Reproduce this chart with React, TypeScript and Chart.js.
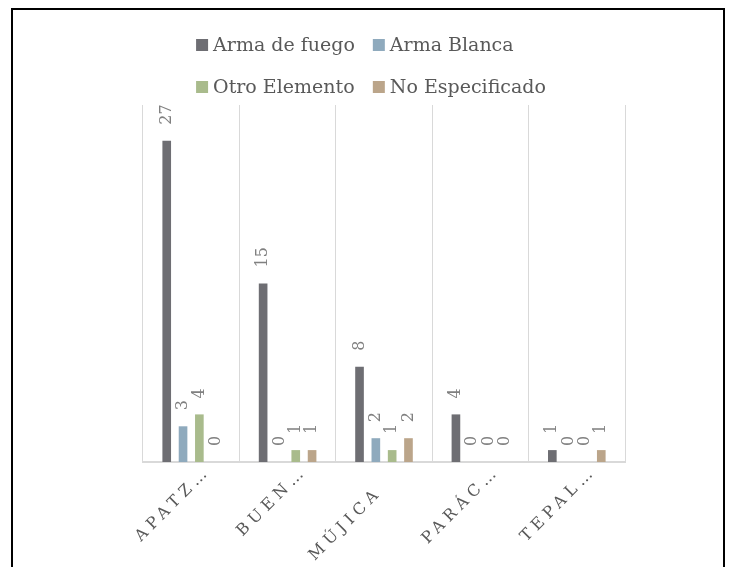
import React, { useEffect, useRef } from "react";
import { Chart, registerables } from "chart.js";

Chart.register(...registerables);

const categories = ["APATZ…", "BUEN…", "MÚJICA   ", "PARÁC…", "TEPAL…"];
const armaFuego = [27, 15, 8, 4, 1];
const armaBlanca = [3, 0, 2, 0, 0];
const otroElemento = [4, 1, 1, 0, 0];
const noEspecificado = [0, 1, 2, 0, 1];
const seriesNames = ["Arma de fuego", "Arma Blanca", "Otro Elemento", "No Especificado"];
const seriesColors = ["#6e6e73", "#8faabd", "#a9bb8c", "#bba58a"];
const yMin = 0;
const yMax = 30;

const FONT = "'DejaVu Serif', serif";

const gridLegend = {
  id: "gridLegend",
  afterDraw(chart: any) {
    const ctx = chart.ctx as CanvasRenderingContext2D;
    ctx.save();
    (ctx as any).letterSpacing = "0px";
    ctx.font = `19px ${FONT}`;
    ctx.textBaseline = "middle";
    ctx.textAlign = "left";
    const box = 12;
    const gap = 5;
    const colGap = 18;
    const w = seriesNames.map((n) => ctx.measureText(n).width);
    const col1 = box + gap + Math.max(w[0], w[2]);
    const col2 = box + gap + Math.max(w[1], w[3]);
    const total = col1 + colGap + col2;
    const left = (chart.width - total) / 2 + 3;
    const rowY = [35, 77];
    seriesNames.forEach((name, i) => {
      const row = Math.floor(i / 2);
      const col = i % 2;
      const x = left + (col === 0 ? 0 : col1 + colGap);
      const y = rowY[row];
      ctx.fillStyle = seriesColors[i];
      ctx.fillRect(x, y - box / 2, box, box);
      ctx.fillStyle = "#595959";
      ctx.fillText(name, x + box + gap, y + 1);
    });
    ctx.restore();
  },
};

const barLabels = {
  id: "barLabels",
  afterDatasetsDraw(chart: any) {
    const ctx = chart.ctx as CanvasRenderingContext2D;
    ctx.save();
    (ctx as any).letterSpacing = "0px";
    ctx.font = `16px ${FONT}`;
    ctx.fillStyle = "#808080";
    ctx.textAlign = "left";
    ctx.textBaseline = "middle";
    chart.data.datasets.forEach((ds: any, di: number) => {
      const meta = chart.getDatasetMeta(di);
      meta.data.forEach((bar: any, i: number) => {
        ctx.save();
        ctx.translate(bar.x, bar.y - 16);
        ctx.rotate(-Math.PI / 2);
        ctx.fillText(String(ds.data[i]), 0, 0);
        ctx.restore();
      });
    });
    ctx.restore();
  },
};

const spacing = {
  id: "tickSpacing",
  beforeDraw(chart: any) {
    (chart.ctx as any).letterSpacing = "5px";
  },
  beforeDatasetsDraw(chart: any) {
    (chart.ctx as any).letterSpacing = "0px";
  },
};

export default function App() {
  const ref = useRef<HTMLCanvasElement | null>(null);
  useEffect(() => {
    if (!ref.current) return;
    const chart = new Chart(ref.current, {
      type: "bar",
      data: {
        labels: categories,
        datasets: [armaFuego, armaBlanca, otroElemento, noEspecificado].map((d, i) => ({
          label: seriesNames[i],
          data: d,
          backgroundColor: seriesColors[i],
          borderWidth: 0,
          categoryPercentage: 0.677,
          barPercentage: 0.53,
        })),
      },
      options: {
        responsive: false,
        animation: false,
        devicePixelRatio: 1,
        layout: { padding: { left: 130, right: 98, top: 95, bottom: 0 } },
        plugins: { legend: { display: false }, tooltip: { enabled: false } },
        scales: {
          y: { display: false, min: yMin, max: yMax },
          x: {
            grid: { display: true, offset: true, color: "#d9d9d9", lineWidth: 1, drawTicks: false },
            border: { display: true, color: "#d9d9d9", width: 2 },
            ticks: {
              minRotation: 45,
              maxRotation: 45,
              autoSkip: false,
              font: { family: FONT, size: 16 },
              color: "#595959",
              padding: 0,
              labelOffset: 17,
            },
            afterFit: (s: any) => {
              s.height = 118;
            },
          },
        },
      },
      plugins: [spacing, barLabels, gridLegend],
    } as any);
    return () => chart.destroy();
  }, []);
  return (
    <div
      style={{
        position: "fixed",
        left: 11,
        top: 8,
        width: 710,
        height: 570,
        border: "2px solid #000",
        background: "#fff",
      }}
    >
      <canvas ref={ref} width={710} height={570} style={{ display: "block" }} />
    </div>
  );
}
